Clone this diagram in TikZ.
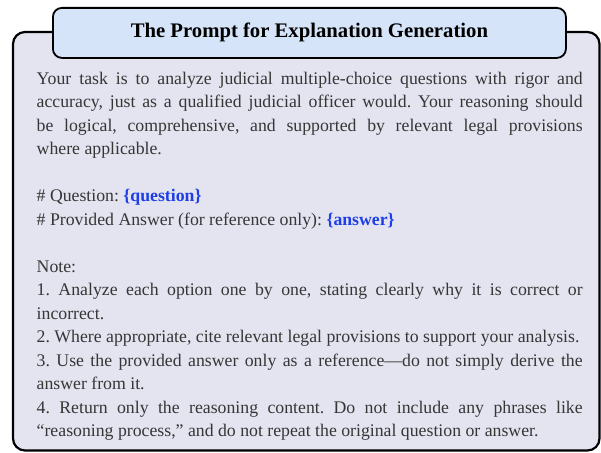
\documentclass[tikz,border=0pt]{standalone}
\usepackage{fontspec}
\setmainfont{Liberation Serif}
\definecolor{outerfill}{HTML}{E3E4F0}
\definecolor{titlefill}{HTML}{D5E4F8}
\definecolor{bodytext}{HTML}{363636}
\definecolor{varblue}{HTML}{1E3FE8}
\tikzset{
  outerbox/.style={draw=black, line width=2.2pt, fill=outerfill, rounded corners=12pt},
  titlebox/.style={draw=black, line width=1.8pt, fill=titlefill, rounded corners=9pt},
  bodypara/.style={anchor=base west, inner sep=0pt, text width=546pt, align=justify,
    font=\fontsize{17.75}{23.5}\selectfont\frenchspacing, text=bodytext},
}
\newcommand{\varb}[1]{\textbf{\color{varblue}#1}}
\begin{document}
\begin{tikzpicture}[x=1pt,y=-1pt]
\useasboundingbox (0,0) rectangle (601,452);
\path[outerbox] (13,32) rectangle (599.5,450.5);
\node[titlebox, minimum width=513pt, minimum height=50pt, anchor=north west,
  font=\fontsize{20.7}{23}\selectfont\bfseries] (title) at (52,7) {The Prompt for Explanation Generation};
\node[bodypara] (p1) at (36.5,84) {Your task is to analyze judicial multiple-choice questions with rigor and\linebreak
accuracy, just as a qualified judicial officer would. Your reasoning should\linebreak
be logical, comprehensive, and supported by relevant legal provisions\linebreak
where applicable.};
\node[bodypara] (p2) at (36.5,201.5) {\# Question: \varb{\{question\}}\\
\# Provided Answer (for reference only): \varb{\{answer\}}};
\node[bodypara] (p3) at (36.5,272) {Note:\\
1. Analyze each option one by one, stating clearly why it is correct or\linebreak
incorrect.\\
2. Where appropriate, cite relevant legal provisions to support your analysis.\\
3. Use the provided answer only as a reference---do not simply derive the\linebreak
answer from it.\\
4. Return only the reasoning content. Do not include any phrases like\linebreak
``reasoning process,'' and do not repeat the original question or answer.};
\end{tikzpicture}
\end{document}
